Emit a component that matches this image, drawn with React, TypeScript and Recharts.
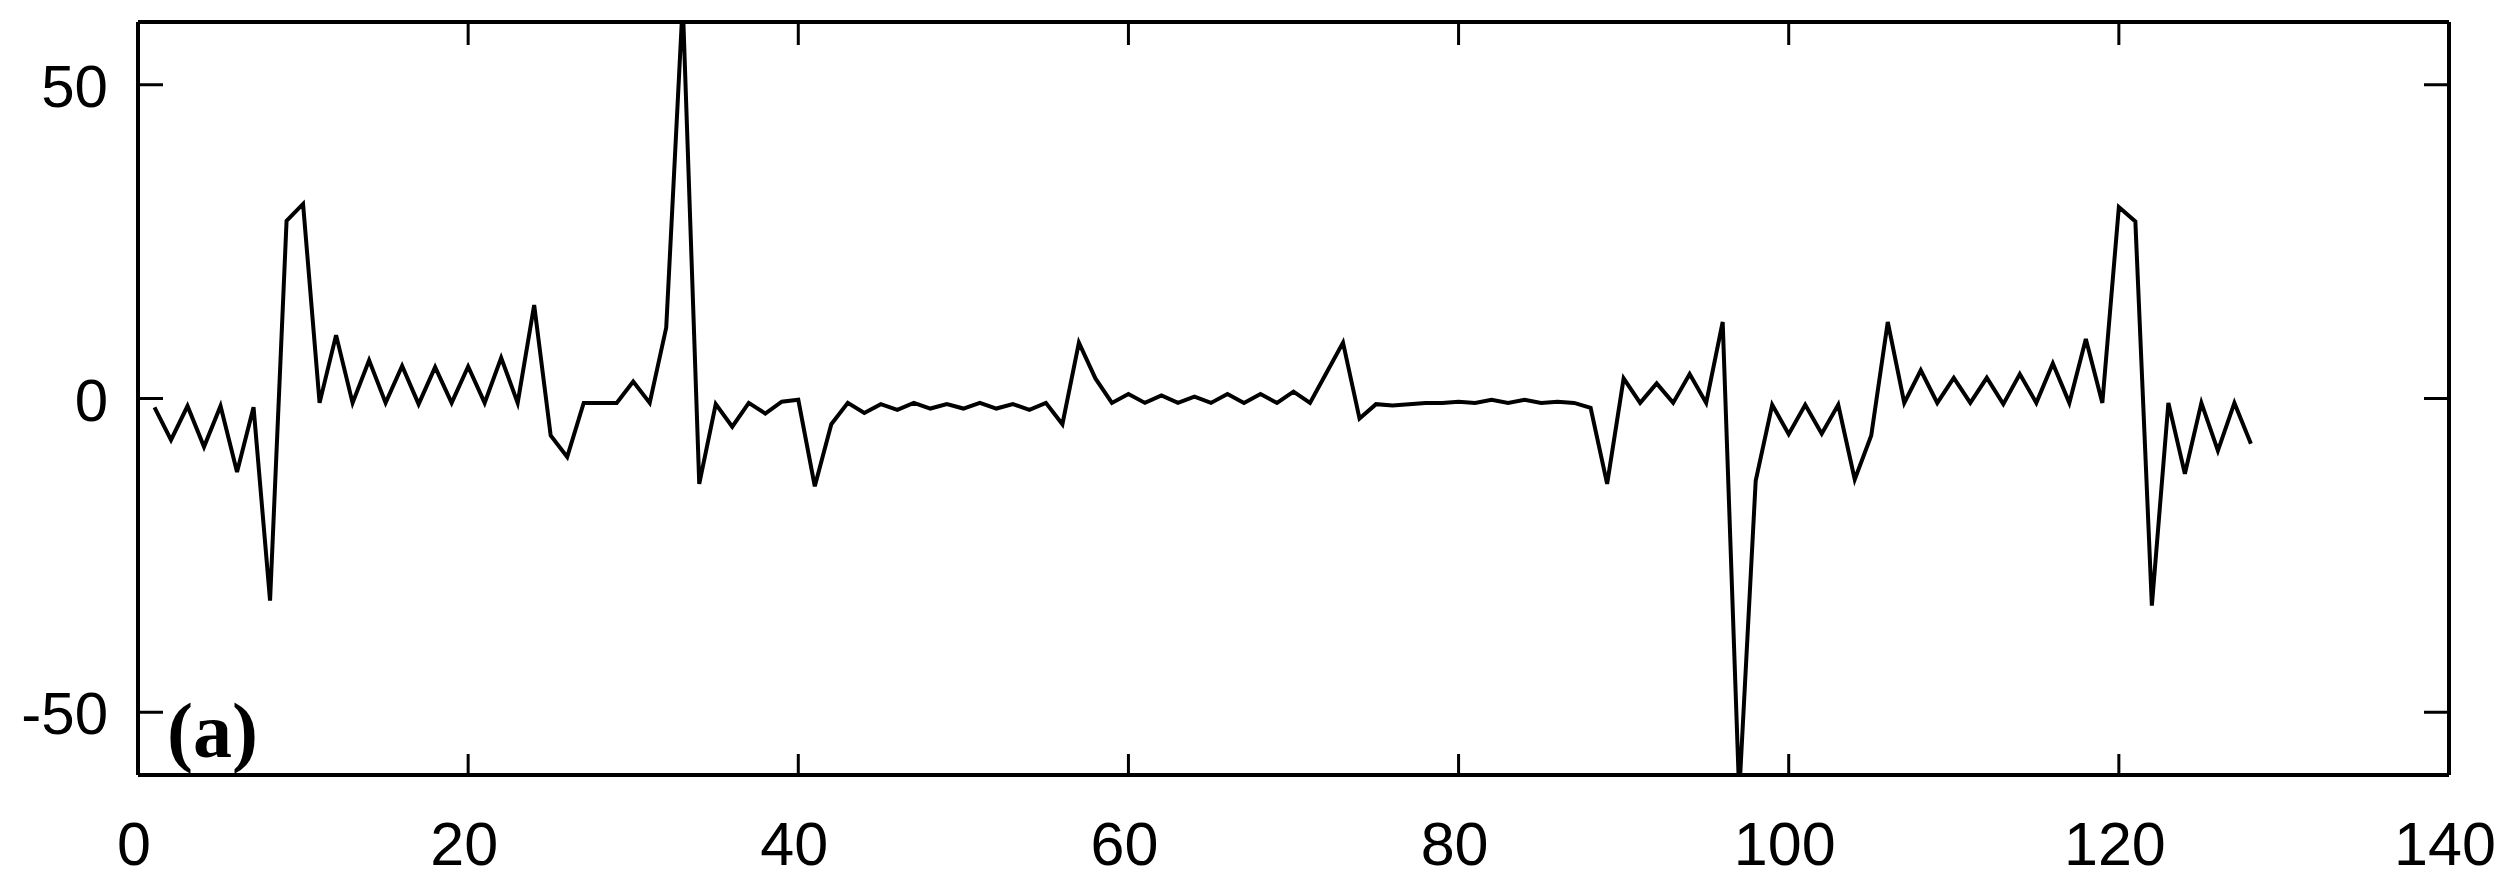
import React from "react";
import { LineChart, Line, XAxis, YAxis } from "recharts";

// sample values, index n = 1..128
const signal: number[] = [
  -1.4, -6.6, -1.2, -7.7, -1.2, -11.7, -1.4, -32.2, 28.3, 31.0,
  -0.7, 10.1, -0.7, 6.1, -0.7, 5.2, -0.9, 5.0, -0.7, 5.1,
  -0.7, 6.5, -0.7, 14.9, -5.9, -9.3, -0.7, -0.7, -0.7, 2.7,
  -0.7, 11.3, 63, -13.6, -0.9, -4.5, -0.7, -2.4, -0.5, -0.2,
  -14.0, -4.1, -0.7, -2.3, -0.9, -1.8, -0.7, -1.6, -0.9, -1.6,
  -0.7, -1.6, -0.9, -1.8, -0.7, -4.1, 8.9, 3.2, -0.7, 0.7,
  -0.7, 0.5, -0.7, 0.3, -0.7, 0.7, -0.7, 0.7, -0.7, 1.1,
  -0.7, 4.1, 8.9, -3.2, -0.9, -1.1, -0.9, -0.7, -0.7, -0.5,
  -0.7, -0.2, -0.7, -0.2, -0.7, -0.5, -0.7, -1.5, -13.6, 3.2,
  -0.7, 2.4, -0.7, 3.9, -0.7, 12.2, -63, -13.1, -1.0, -5.7,
  -1.0, -5.6, -1.0, -12.9, -5.9, 12.2, -0.7, 4.5, -0.7, 3.3,
  -0.7, 3.3, -0.9, 3.9, -0.7, 5.6, -0.7, 9.5, -0.7, 30.5,
  28.2, -33.0, -0.7, -12.0, -0.7, -8.3, -0.7, -7.2,
];

const xTicks: number[] = [0, 20, 40, 60, 80, 100, 120, 140];
const yTicks: number[] = [-50, 0, 50];
const xDomain: [number, number] = [0, 140];
const yDomain: [number, number] = [-60, 60];
const panelLabel = "(a)";

const data = signal.map((v, i) => ({ n: i + 1, v }));

const FONT = "'Liberation Sans', Arial, Helvetica, sans-serif";

const BottomTick = (props: any) => {
  const { x, y, payload } = props;
  return (
    <g>
      <line x1={x} y1={y} x2={x} y2={y - 21} stroke="#000" strokeWidth={3} />
      <text x={x - 4} y={y + 90} textAnchor="middle" fontSize={61} fontFamily={FONT} fill="#000">
        {payload.value}
      </text>
    </g>
  );
};

const TopTick = (props: any) => {
  const { x, y } = props;
  return <line x1={x} y1={y} x2={x} y2={y + 23} stroke="#000" strokeWidth={3} />;
};

const LeftTick = (props: any) => {
  const { x, y, payload } = props;
  return (
    <g>
      <line x1={x} y1={y} x2={x + 25} y2={y} stroke="#000" strokeWidth={3} />
      <text x={x - 30} y={y + 22} textAnchor="end" fontSize={60} fontFamily={FONT} fill="#000">
        {payload.value}
      </text>
    </g>
  );
};

const RightTick = (props: any) => {
  const { x, y } = props;
  return <line x1={x} y1={y} x2={x - 25} y2={y} stroke="#000" strokeWidth={3} />;
};

const axisLine = { stroke: "#000", strokeWidth: 4 };

export default function App() {
  const W = 2494;
  const H = 873;
  return (
    <div style={{ position: "relative", width: W, height: H, background: "#fff" }}>
      <LineChart width={W} height={H} data={data} margin={{ top: 13, right: 52, bottom: 0, left: 0 }}>
        <XAxis
          dataKey="n"
          type="number"
          domain={xDomain}
          ticks={xTicks}
          height={106}
          axisLine={axisLine}
          tickLine={false}
          tickSize={0}
          tickMargin={0}
          tick={<BottomTick />}
          interval={0}
        />
        <XAxis
          xAxisId="top"
          orientation="top"
          dataKey="n"
          type="number"
          domain={xDomain}
          ticks={xTicks}
          height={1}
          axisLine={axisLine}
          tickLine={false}
          tickSize={0}
          tickMargin={0}
          tick={<TopTick />}
          interval={0}
        />
        <YAxis
          type="number"
          domain={yDomain}
          ticks={yTicks}
          width={130}
          allowDataOverflow
          axisLine={axisLine}
          tickLine={false}
          tickSize={0}
          tickMargin={0}
          tick={<LeftTick />}
          interval={0}
        />
        <YAxis
          yAxisId="right"
          orientation="right"
          type="number"
          domain={yDomain}
          ticks={yTicks}
          width={1}
          allowDataOverflow
          axisLine={axisLine}
          tickLine={false}
          tickSize={0}
          tickMargin={0}
          tick={<RightTick />}
          interval={0}
        />
        <Line
          type="linear"
          dataKey="v"
          stroke="#000"
          strokeWidth={4}
          dot={false}
          activeDot={false}
          isAnimationActive={false}
        />
      </LineChart>
      <svg width={W} height={H} style={{ position: "absolute", left: 0, top: 0, pointerEvents: "none" }}>
        <text
          x={159}
          y={749}
          fontSize={78}
          fontWeight="bold"
          fontFamily="'Liberation Serif', 'Times New Roman', Times, serif"
          fill="#000"
        >
          {panelLabel}
        </text>
      </svg>
    </div>
  );
}
